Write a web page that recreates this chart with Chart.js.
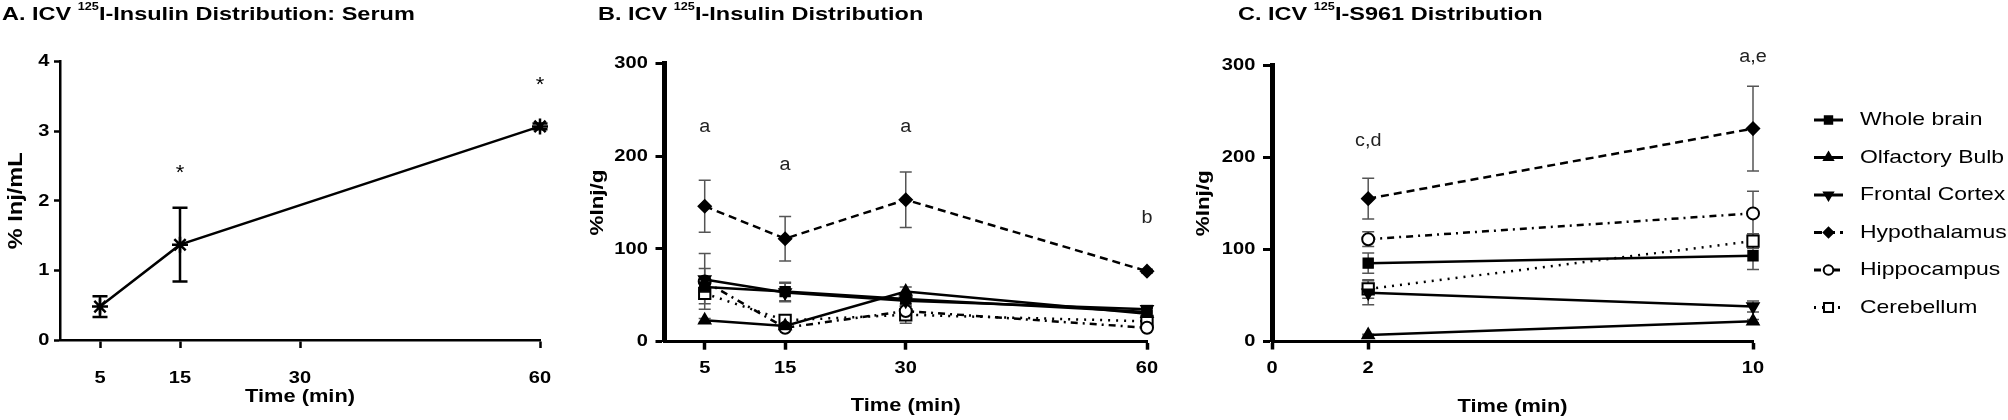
<!DOCTYPE html>
<html><head><meta charset="utf-8">
<script src="https://cdn.jsdelivr.net/npm/chart.js@4/dist/chart.umd.min.js"></script>
<style>
html,body{margin:0;padding:0;background:#fff;}
#page{position:relative;width:2008px;height:420px;overflow:hidden;background:#fff;}
canvas{position:absolute;top:0;}
.ttl{position:absolute;top:5px;z-index:2;font-family:"Liberation Sans",Arial,sans-serif;font-weight:bold;font-size:18.5px;line-height:18.5px;white-space:nowrap;transform-origin:0 0;transform:scaleX(1.27);color:#000;}
.ttl sup{font-size:10px;vertical-align:baseline;position:relative;top:-10.5px;}
</style></head>
<body><div id="page">
<canvas id="cA" width="600" height="420" style="left:0px"></canvas>
<canvas id="cB" width="640" height="420" style="left:560px"></canvas>
<canvas id="cC" width="818" height="420" style="left:1190px"></canvas>
<div class="ttl" style="left:2px">A. ICV <sup>125</sup>I-Insulin Distribution: Serum</div>
<div class="ttl" style="left:598px">B. ICV <sup>125</sup>I-Insulin Distribution</div>
<div class="ttl" style="left:1238px">C. ICV <sup>125</sup>I-S961 Distribution</div>
</div>
<script>
// ---------------- DATA ----------------
// Panel A: serum
const serumTimes = [5, 15, 60];
const serumMean = [0.48, 1.37, 3.07];
const serumSem = [0.15, 0.53, 0.04];
const serumXTicks = [5, 15, 30, 60];
const serumYTicks = [0, 1, 2, 3, 4];
const serumMarks = ['*', '*'];
const serumMarkTimes = [15, 60];
const serumMarkLevels = [2.46, 3.72];

// Regions (legend order)
const regions = ['Whole brain', 'Olfactory Bulb', 'Frontal Cortex', 'Hypothalamus', 'Hippocampus', 'Cerebellum'];

// Panel B: 125I-Insulin
const insulinTimes = [5, 15, 30, 60];
const insulinXTicks = [5, 15, 30, 60];
const insulinWholeBrain = [59, 54, 46, 32];
const insulinOlfactory = [23, 17, 54, 30];
const insulinFrontal = [67, 53, 44, 35];
const insulinHypothalamus = [146, 111, 153, 76];
const insulinHippocampus = [65, 15, 33, 15];
const insulinCerebellum = [52, 23, 29, 22];
const insulinWholeBrainSem = [6, 10, 5, 4];
const insulinOlfactorySem = [2, 2, 5, 3];
const insulinFrontalSem = [12, 10, 5, 4];
const insulinHypothalamusSem = [28, 24, 30, 2];
const insulinHippocampusSem = [30, 3, 5, 2];
const insulinCerebellumSem = [11, 4, 9, 3];
const insulinLetters = ['a', 'a', 'a', 'b'];
const insulinLetterTimes = [5, 15, 30, 60];
const insulinLetterLevels = [231, 190, 231, 133];

// Panel C: 125I-S961
const s961Times = [2, 10];
const s961XTicks = [0, 2, 10];
const s961WholeBrain = [85, 93];
const s961Olfactory = [7, 22];
const s961Frontal = [53, 38];
const s961Hypothalamus = [155, 231];
const s961Hippocampus = [111, 139];
const s961Cerebellum = [57, 109];
const s961WholeBrainSem = [11, 15];
const s961OlfactorySem = [1, 2];
const s961FrontalSem = [13, 6];
const s961HypothalamusSem = [22, 46];
const s961HippocampusSem = [8, 24];
const s961CerebellumSem = [10, 8];
const s961Letters = ['c,d', 'a,e'];
const s961LetterTimes = [2, 10];
const s961LetterLevels = [218, 309];

const regionYTicks = [0, 100, 200, 300];

// ---------------- STYLES ----------------
const FONT = '"Liberation Sans", Arial, sans-serif';
Chart.defaults.font.family = FONT;
Chart.defaults.color = '#000';

const regionStyles = [
  {pointStyle: 'rect', rotation: 0, radius: 7, fill: '#000', dash: []},
  {pointStyle: 'triangle', rotation: 0, radius: 7, fill: '#000', dash: []},
  {pointStyle: 'triangle', rotation: 180, radius: 7, fill: '#000', dash: []},
  {pointStyle: 'rectRot', rotation: 0, radius: 6.5, fill: '#000', dash: [8, 5]},
  {pointStyle: 'circle', rotation: 0, radius: 6, fill: '#fff', dash: [7, 5, 2, 5]},
  {pointStyle: 'rect', rotation: 0, radius: 8, fill: '#fff', dash: [2, 6]}
];

// ---------------- PLUGINS ----------------
const stretchText = {
  id: 'stretchText',
  beforeInit(chart) {
    const ctx = chart.ctx;
    const orig = ctx.fillText;
    ctx.fillText = function (text, x, y) {
      const sx = chart.$sx || 1;
      this.save(); this.translate(x, y); this.scale(sx, 1);
      orig.call(this, text, 0, 0);
      this.restore();
    };
  },
  beforeDraw(chart, args, o) { chart.$sx = o.sx; }
};

const errorBars = {
  id: 'errorBars',
  beforeDatasetsDraw(chart, args, o) {
    const {ctx, scales: {x, y}} = chart;
    ctx.save();
    ctx.strokeStyle = o.color; ctx.lineWidth = o.width; ctx.setLineDash([]);
    chart.data.datasets.forEach(ds => {
      if (!ds.errors) return;
      ds.data.forEach((p, j) => {
        const e = ds.errors[j];
        if (!e) return;
        const px = x.getPixelForValue(p.x);
        const t = y.getPixelForValue(p.y + e), b = y.getPixelForValue(p.y - e);
        ctx.beginPath();
        ctx.moveTo(px, t); ctx.lineTo(px, b);
        ctx.moveTo(px - o.cap, t); ctx.lineTo(px + o.cap, t);
        ctx.moveTo(px - o.cap, b); ctx.lineTo(px + o.cap, b);
        ctx.stroke();
      });
    });
    ctx.restore();
  }
};

const letters = {
  id: 'letters',
  afterDraw(chart, args, o) {
    const {ctx, scales: {x, y}} = chart;
    ctx.save();
    ctx.fillStyle = o.color; ctx.font = o.font; ctx.textAlign = 'center'; ctx.textBaseline = 'middle';
    const prev = chart.$sx; chart.$sx = o.sx;
    o.texts.forEach((t, i) => ctx.fillText(t, x.getPixelForValue(o.times[i]), y.getPixelForValue(o.levels[i]) + (o.dy || 0)));
    chart.$sx = prev;
    ctx.restore();
  }
};

const sideLegend = {
  id: 'sideLegend',
  afterDraw(chart, args, o) {
    if (!o || !o.show) return;
    const ctx = chart.ctx;
    chart.data.datasets.forEach((ds, i) => {
      const y = o.y0 + i * o.step;
      ctx.save();
      ctx.strokeStyle = '#000'; ctx.lineWidth = o.lineWidth; ctx.setLineDash(ds.borderDash || []);
      ctx.beginPath(); ctx.moveTo(o.x1, y); ctx.lineTo(o.x2, y); ctx.stroke();
      ctx.setLineDash([]);
      ctx.fillStyle = ds.pointBackgroundColor; ctx.strokeStyle = '#000'; ctx.lineWidth = ds.pointBorderWidth;
      Chart.helpers.drawPoint(ctx, {pointStyle: ds.pointStyle, rotation: ds.pointRotation, radius: ds.pointRadius * o.scale, borderWidth: ds.pointBorderWidth}, (o.x1 + o.x2) / 2, y);
      ctx.fillStyle = '#000'; ctx.font = o.font; ctx.textAlign = 'left'; ctx.textBaseline = 'middle';
      const prev = chart.$sx; chart.$sx = o.sx;
      ctx.fillText(ds.label, o.textX, y);
      chart.$sx = prev;
      ctx.restore();
    });
  }
};

// ---------------- HELPERS ----------------
function regionDatasets(times, values, sems) {
  return regions.map((name, i) => {
    const st = regionStyles[i];
    return {
      label: name,
      data: times.map((t, j) => ({x: t, y: values[i][j]})),
      errors: sems[i],
      borderColor: '#000', backgroundColor: st.fill,
      borderWidth: 2.5, borderDash: st.dash, tension: 0, fill: false, clip: false,
      pointStyle: st.pointStyle, pointRotation: st.rotation, pointRadius: st.radius,
      pointBackgroundColor: st.fill, pointBorderColor: '#000', pointBorderWidth: st.fill === '#fff' ? 2 : 1.5
    };
  });
}

function axisX(min, max, ticks, opts) {
  return {
    type: 'linear', min, max,
    afterBuildTicks: s => { s.ticks = ticks.map(v => ({value: v})); },
    afterFit: s => { s.height = opts.height; },
    border: {display: true, color: '#000', width: opts.border},
    grid: {drawOnChartArea: false, drawTicks: true, tickLength: 8, tickWidth: opts.tickWidth, color: '#000', tickColor: '#000'},
    ticks: {color: '#000', font: {size: 17, weight: 'bold'}, padding: opts.pad, maxRotation: 0, minRotation: 0, autoSkip: false},
    title: {display: true, text: 'Time (min)', color: '#000', font: {size: 18.5, weight: 'bold'}, padding: 0}
  };
}
function axisY(min, max, ticks, text, opts) {
  return {
    min, max,
    afterBuildTicks: s => { s.ticks = ticks.map(v => ({value: v})); },
    afterFit: s => { s.width = opts.width; },
    border: {display: true, color: '#000', width: opts.border},
    grid: {drawOnChartArea: false, drawTicks: true, tickLength: opts.tl, tickWidth: opts.tickWidth, color: '#000', tickColor: '#000'},
    ticks: {color: '#000', font: {size: 17, weight: 'bold'}, padding: opts.pad, autoSkip: false},
    title: {display: true, text, color: '#000', font: {size: opts.tsize, weight: 'bold'}, padding: 0}
  };
}

// ---------------- CHART A ----------------
new Chart(document.getElementById('cA'), {
  type: 'line',
  data: {datasets: [{
    label: 'Serum',
    data: serumTimes.map((t, i) => ({x: t, y: serumMean[i]})),
    errors: serumSem,
    borderColor: '#000', borderWidth: 2.5, tension: 0, fill: false, clip: false,
    pointStyle: 'star', pointRadius: 8, pointBorderColor: '#000', pointBorderWidth: 2.5, pointBackgroundColor: '#000'
  }]},
  options: {
    responsive: false, animation: false, devicePixelRatio: 1,
    layout: {padding: {left: 4, right: 60, top: 61.7, bottom: 11.9}},
    scales: {
      x: axisX(0, 60, serumXTicks, {height: 68.1, border: 2.5, tickWidth: 2.5, pad: 19.8}),
      y: axisY(0, 4, serumYTicks, '% Inj/mL', {width: 56, border: 2.5, tl: 6, tickWidth: 2.5, pad: 4.6, tsize: 20})
    },
    plugins: {
      legend: {display: false}, tooltip: {enabled: false},
      stretchText: {sx: 1.18},
      errorBars: {color: '#000', width: 2.5, cap: 7.5},
      letters: {texts: serumMarks, times: serumMarkTimes, levels: serumMarkLevels, font: '20px ' + FONT, color: '#000', sx: 1.1, dy: 4.7}
    }
  },
  plugins: [stretchText, errorBars, letters]
});

// ---------------- CHART B ----------------
new Chart(document.getElementById('cB'), {
  type: 'line',
  data: {datasets: regionDatasets(insulinTimes,
    [insulinWholeBrain, insulinOlfactory, insulinFrontal, insulinHypothalamus, insulinHippocampus, insulinCerebellum],
    [insulinWholeBrainSem, insulinOlfactorySem, insulinFrontalSem, insulinHypothalamusSem, insulinHippocampusSem, insulinCerebellumSem])},
  options: {
    responsive: false, animation: false, devicePixelRatio: 1,
    layout: {padding: {left: 25.9, right: 53, top: 63.3, bottom: 2.9}},
    scales: {
      x: axisX(0, 60, insulinXTicks, {height: 75.4, border: 3, tickWidth: 3.5, pad: 8.6}),
      y: axisY(0, 300, regionYTicks, '%Inj/g', {width: 78.6, border: 5, tl: 9, tickWidth: 3, pad: 7.7, tsize: 19})
    },
    plugins: {
      legend: {display: false}, tooltip: {enabled: false},
      stretchText: {sx: 1.18},
      errorBars: {color: '#555', width: 1.5, cap: 6},
      letters: {texts: insulinLetters, times: insulinLetterTimes, levels: insulinLetterLevels, font: '18px ' + FONT, color: '#222', sx: 1.1, dy: 0}
    }
  },
  plugins: [stretchText, errorBars, letters]
});

// ---------------- CHART C ----------------
new Chart(document.getElementById('cC'), {
  type: 'line',
  data: {datasets: regionDatasets(s961Times,
    [s961WholeBrain, s961Olfactory, s961Frontal, s961Hypothalamus, s961Hippocampus, s961Cerebellum],
    [s961WholeBrainSem, s961OlfactorySem, s961FrontalSem, s961HypothalamusSem, s961HippocampusSem, s961CerebellumSem])},
  options: {
    responsive: false, animation: false, devicePixelRatio: 1,
    layout: {padding: {left: 2.4, right: 255, top: 65, bottom: 1.9}},
    scales: {
      x: axisX(0, 10, s961XTicks, {height: 76.6, border: 3, tickWidth: 3.5, pad: 8.3}),
      y: axisY(0, 300, regionYTicks, '%Inj/g', {width: 79.6, border: 5, tl: 9, tickWidth: 3, pad: 7.7, tsize: 19})
    },
    plugins: {
      legend: {display: false}, tooltip: {enabled: false},
      stretchText: {sx: 1.18},
      errorBars: {color: '#555', width: 1.5, cap: 6},
      letters: {texts: s961Letters, times: s961LetterTimes, levels: s961LetterLevels, font: '18px ' + FONT, color: '#222', sx: 1.1, dy: 0},
      sideLegend: {show: true, x1: 624, x2: 653, textX: 670, y0: 120, step: 37.5, lineWidth: 3, scale: 0.8, font: '18.5px ' + FONT, sx: 1.24}
    }
  },
  plugins: [stretchText, errorBars, letters, sideLegend]
});
</script>
</body></html>
